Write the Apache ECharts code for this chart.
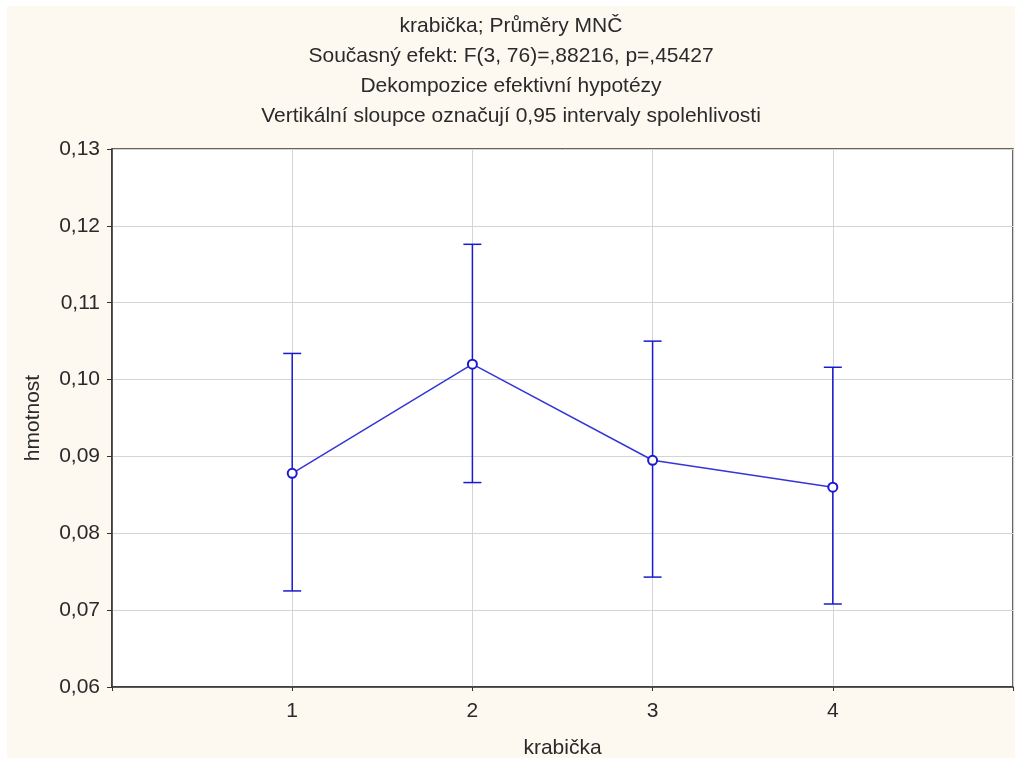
<!DOCTYPE html>
<html>
<head>
<meta charset="utf-8">
<script src="https://cdn.jsdelivr.net/npm/echarts@6/dist/echarts.min.js"></script>
<style>
  html, body { margin: 0; padding: 0; background: #ffffff; }
  #chart { position: absolute; left: 7px; top: 6px; width: 1008px; height: 752px; }
</style>
</head>
<body>
<div id="chart"></div>
<script>
// krabička 1..4, means with 0.95 confidence intervals
const categories = [1, 2, 3, 4]
const means = [0.0878, 0.1020, 0.0895, 0.0860]
const upper = [0.1034, 0.1176, 0.1050, 0.1016]
const lower = [0.0725, 0.0866, 0.0743, 0.0708]
const titleLines = [
  'krabička; Průměry MNČ',
  'Současný efekt: F(3, 76)=,88216, p=,45427',
  'Dekompozice efektivní hypotézy',
  'Vertikální sloupce označují 0,95 intervaly spolehlivosti'
]

const font = 'Liberation Sans, Arial, sans-serif'
const blue = '#1a1ad0'

const chart = echarts.init(document.getElementById('chart'))

const option = {
  backgroundColor: '#fdf9f0',
  animation: false,
  title: {
    text: titleLines.join('\n'),
    left: 'center',
    top: 0,
    textStyle: {
      fontFamily: font,
      fontSize: 21,
      fontWeight: 'normal',
      color: '#2a2a2a',
      lineHeight: 30,
    },
  },
  grid: {
    left: 105,
    right: 2,
    top: 143,
    bottom: 71,
    outerBoundsMode: 'none',
    containLabel: false,
    show: true,
    backgroundColor: '#ffffff',
    borderColor: '#333',
    borderWidth: 1.5,
  },
  xAxis: {
    type: 'value',
    min: 0,
    max: 5,
    interval: 1,
    name: 'krabička',
    nameLocation: 'middle',
    nameGap: 51,
    nameTextStyle: { fontFamily: font, fontSize: 21, color: '#2a2a2a' },
    axisLine: { show: true, lineStyle: { color: '#333', width: 1.5 } },
    axisTick: { show: true, length: 4, lineStyle: { color: '#333' } },
    axisLabel: {
      fontFamily: font,
      fontSize: 21,
      color: '#2a2a2a',
      margin: 14,
      formatter: (v) => (categories.indexOf(v) >= 0 ? String(v) : ''),
    },
    splitLine: { show: true, lineStyle: { color: '#d4d4d4', width: 1 } },
  },
  yAxis: {
    type: 'value',
    min: 0.06,
    max: 0.13,
    interval: 0.01,
    name: 'hmotnost',
    nameLocation: 'middle',
    nameGap: 68,
    nameTextStyle: { fontFamily: font, fontSize: 21, color: '#2a2a2a' },
    axisLine: { show: true, lineStyle: { color: '#333', width: 1.5 } },
    axisTick: { show: true, length: 5, lineStyle: { color: '#333' } },
    axisLabel: {
      fontFamily: font,
      fontSize: 21,
      color: '#2a2a2a',
      margin: 12,
      formatter: (v) => v.toFixed(2).replace('.', ','),
    },
    splitLine: { show: true, lineStyle: { color: '#d4d4d4', width: 1 } },
  },
  series: [
    {
      type: 'custom',
      name: 'ci',
      z: 3,
      data: categories.map((c, i) => [c, lower[i], upper[i]]),
      renderItem: (params, api) => {
        const x = api.value(0)
        const lo = api.coord([x, api.value(1)])
        const hi = api.coord([x, api.value(2)])
        const hw = 9
        const style = { stroke: blue, lineWidth: 1.5 }
        return {
          type: 'group',
          children: [
            { type: 'line', shape: { x1: lo[0], y1: lo[1], x2: hi[0], y2: hi[1] }, style },
            { type: 'line', shape: { x1: lo[0] - hw, y1: lo[1], x2: lo[0] + hw, y2: lo[1] }, style },
            { type: 'line', shape: { x1: hi[0] - hw, y1: hi[1], x2: hi[0] + hw, y2: hi[1] }, style },
          ],
        }
      },
    },
    {
      type: 'line',
      name: 'mean',
      z: 4,
      data: categories.map((c, i) => [c, means[i]]),
      symbol: 'emptyCircle',
      symbolSize: 9,
      lineStyle: { color: '#3535d8', width: 1.5 },
      itemStyle: { color: blue, borderWidth: 2 },
    },
  ],
}

chart.setOption(option)
</script>
</body>
</html>
